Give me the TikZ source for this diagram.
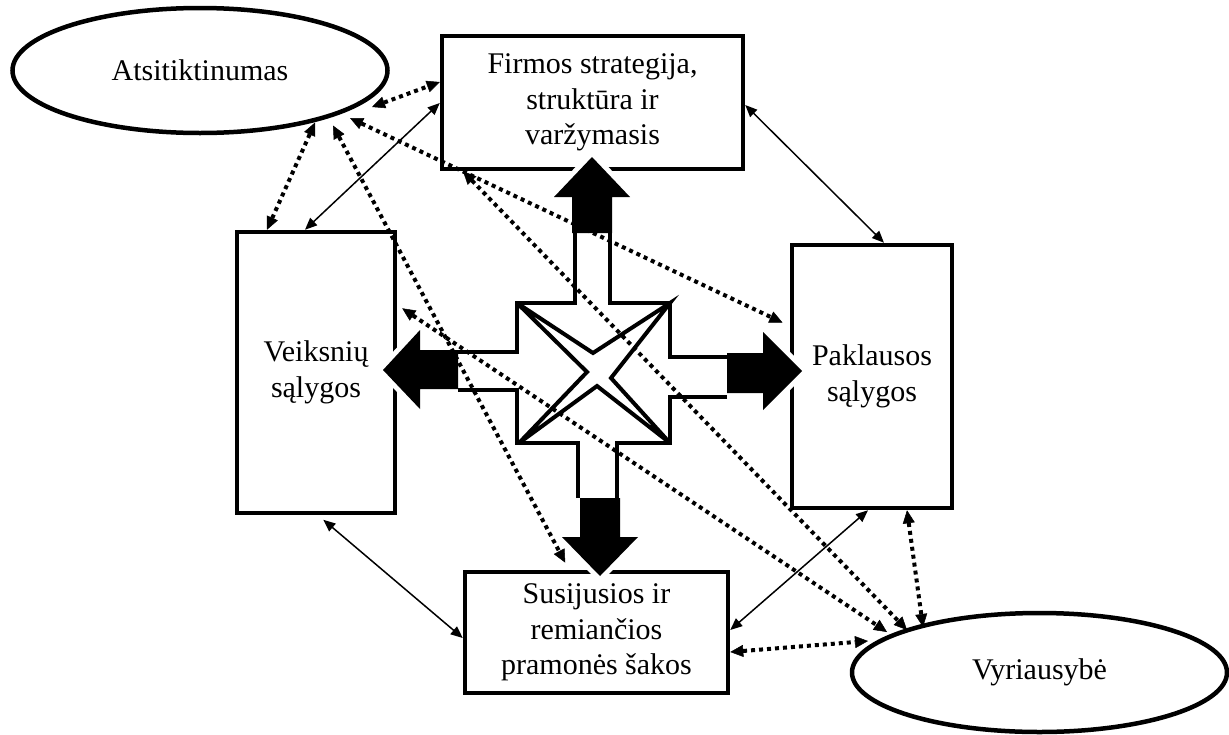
\documentclass[tikz,border=0pt]{standalone}
\usepackage{fontspec}
\setmainfont{Liberation Serif}
\usetikzlibrary{shapes.geometric,arrows.meta,calc}
\begin{document}
\begin{tikzpicture}[x=1pt,y=-1pt,
  box/.style={draw, line width=4.5pt, rectangle, inner sep=0pt, align=center, font=\fontsize{30}{35.5}\selectfont},
  oval/.style={draw, line width=4.5pt, ellipse, inner sep=0pt, font=\fontsize{30}{35.5}\selectfont},
  thinarrow/.style={line width=1.5pt, {Triangle[length=12pt,width=10pt]}-{Triangle[length=12pt,width=10pt]}},
  dotarrow/.style={line width=4pt, dash pattern=on 4pt off 4pt, {Triangle[length=13pt,width=12pt,line width=0.5pt]}-{Triangle[length=13pt,width=12pt,line width=0.5pt]}},
  outline/.style={line width=4.5pt, line join=miter},
  starline/.style={line width=4pt, line join=miter},
  blackarrow/.style={fill=black},
  halo/.style={draw=white, line width=10pt, line join=round}
]
\useasboundingbox (0,0) rectangle (1229,734);
\fill[white] (0,0) rectangle (1229,734);

% nodes
\node[oval, minimum width=375pt, minimum height=125pt] (atsit) at (200,70.5) {Atsitiktinumas};
\node[oval, minimum width=375pt, minimum height=119pt] (vyr) at (1039.5,672.5) {Vyriausybė};
\node[box, minimum width=301pt, minimum height=133pt] (firm) at (592.5,102.5) {Firmos strategija,\\ struktūra ir\\ varžymasis};
\node[box, minimum width=158pt, minimum height=281pt] (veik) at (316,372.5) {Veiksnių\\ sąlygos};
\node[box, minimum width=160pt, minimum height=263pt] (pakl) at (872,376.5) {Paklausos\\ sąlygos};
\node[box, minimum width=263pt, minimum height=121pt] (susi) at (596.5,632.5) {Susijusios ir\\ remiančios\\ pramonės šakos};

% halos of the black arrows
\path[halo] (572,233) -- (572,197) -- (554,197) -- (592,157) -- (630,197) -- (612,197) -- (612,233) -- cycle;
\path[halo] (458,350) -- (420,350) -- (420,330) -- (383,370) -- (420,409) -- (420,389) -- (458,389) -- cycle;
\path[halo] (727,353) -- (763,353) -- (763,332) -- (802,371) -- (763,410) -- (763,393) -- (727,393) -- cycle;
\path[halo] (580,498) -- (580,537) -- (562,537) -- (600,576) -- (638,537) -- (620,537) -- (620,498) -- cycle;

% hollow cross
\draw[outline] (610,233) -- (610,303) -- (670,303) -- (670,357) -- (727,357);
\draw[outline] (727,397) -- (670,397) -- (670,443) -- (617,443) -- (617,498);
\draw[outline] (578,498) -- (578,443) -- (517,443) -- (517,390) -- (458,390);
\draw[outline] (458,352) -- (517,352) -- (517,303) -- (575,303) -- (575,233);
\draw[starline] (517,303) -- (593,353) -- (670,303) -- (611,378) -- (670,443) -- (597,386) -- (519,443) -- (587,372) -- cycle;

% black arrows
\fill[blackarrow] (572,233) -- (572,197) -- (554,197) -- (592,157) -- (630,197) -- (612,197) -- (612,233) -- cycle;
\fill[blackarrow] (458,350) -- (420,350) -- (420,330) -- (383,370) -- (420,409) -- (420,389) -- (458,389) -- cycle;
\fill[blackarrow] (727,353) -- (763,353) -- (763,332) -- (802,371) -- (763,410) -- (763,393) -- (727,393) -- cycle;
\fill[blackarrow] (580,498) -- (580,537) -- (562,537) -- (600,576) -- (638,537) -- (620,537) -- (620,498) -- cycle;

% thin solid connectors
\draw[thinarrow] (firm.west |- 0,103) -- (veik.north -| 305,0);
\draw[thinarrow] (firm.east |- 0,105) -- (pakl.north -| 884,0);
\draw[thinarrow, shorten <=7pt] (veik.south -| 318,0) -- (susi.west |- 0,638);
\draw[thinarrow] (pakl.south -| 868,0) -- (susi.east |- 0,630);

% dotted connectors
\draw[dotarrow] ($(atsit)+(172,36.5)$) -- (firm.west |- 0,82);
\draw[dotarrow] ($(atsit)+(115,52)$) -- (veik.north -| 267,0);
\draw[dotarrow, shorten >=8pt] ($(atsit)+(133,55)$) -- (susi.north -| 569,0);
\draw[dotarrow, shorten >=8pt] ($(atsit)+(150,47.5)$) -- (pakl.west |- 0,326);
\draw[dotarrow] (firm.south -| 463,0) -- ($(vyr)+(-132.5,-42.5)$);
\draw[dotarrow, shorten <=6pt] (veik.east |- 0,305) -- ($(vyr)+(-152.5,-40.5)$);
\draw[dotarrow] (pakl.south -| 907,0) -- ($(vyr)+(-116.5,-45.5)$);
\draw[dotarrow] (susi.east |- 0,652) -- ($(vyr)+(-171.5,-31.5)$);
\end{tikzpicture}
\end{document}
